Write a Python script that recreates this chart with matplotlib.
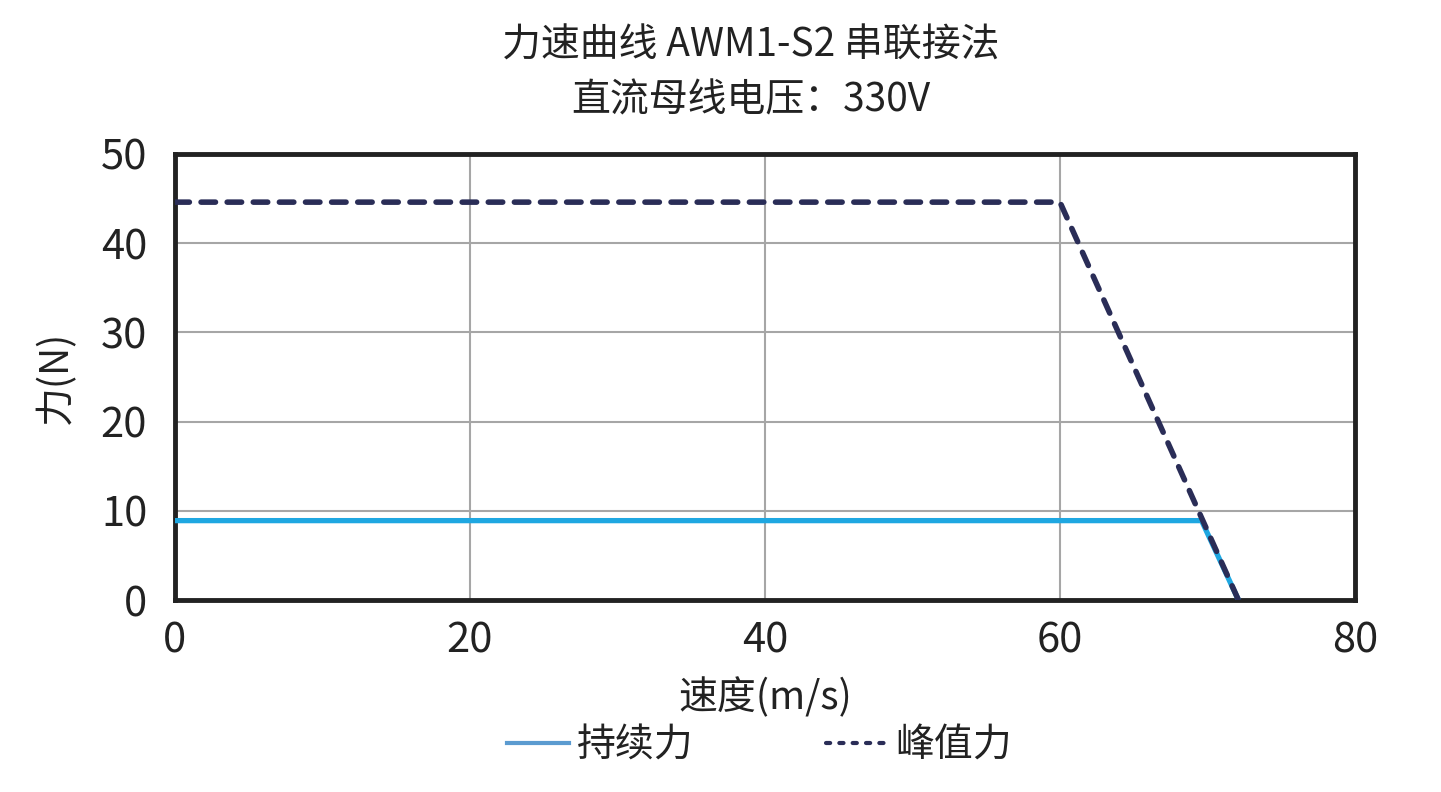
import matplotlib.pyplot as plt
from matplotlib.lines import Line2D

plt.rcParams['font.family'] = ['Noto Sans CJK SC', 'DejaVu Sans']

# data
cont_speed = [0, 69.6, 72.1]
cont_force = [8.9, 8.9, 0]
peak_speed = [0, 60, 72.1]
peak_force = [44.6, 44.6, 0]

x_ticks = [0, 20, 40, 60, 80]
y_ticks = [0, 10, 20, 30, 40, 50]

CONT_COLOR = "#1ea7e1"
CONT_LEGEND = "#5b9bd0"
PEAK_COLOR = "#2a2d57"
TXT = "#222222"

fig = plt.figure(figsize=(14.41, 7.92), dpi=100)
ax = fig.add_axes([0.1214, 0.2424, 0.8189, 0.5632])

ax.plot(cont_speed, cont_force, color=CONT_COLOR, lw=3.8, solid_capstyle="butt", zorder=3)
ax.plot(peak_speed, peak_force, color=PEAK_COLOR, lw=4.0, dashes=(2.6, 2.1),
        dash_capstyle="round", zorder=4)

ax.set_xlim(0, 80)
ax.set_ylim(0, 50)
ax.set_xticks(x_ticks)
ax.set_yticks(y_ticks)
ax.tick_params(labelsize=30, length=0, colors=TXT)
ax.tick_params(axis="x", pad=15)
ax.tick_params(axis="y", pad=20)
ax.grid(True, color="#a6a6a6", lw=1.5)
for s in ax.spines.values():
    s.set_color(TXT)
    s.set_linewidth(3.5)

ax.set_xlabel("速度(m/s)", fontsize=28, color=TXT, labelpad=11)
ax.set_ylabel("力(N)", fontsize=28, color=TXT, labelpad=18)

fig.text(0.521, 0.943, "力速曲线 AWM1-S2 串联接法", ha="center", va="center",
         fontsize=28, color=TXT)
fig.text(0.521, 0.873, "直流母线电压：330V", ha="center", va="center",
         fontsize=28, color=TXT)

handles = [
    Line2D([0], [0], color=CONT_LEGEND, lw=3.0),
    Line2D([0], [0], color=PEAK_COLOR, lw=3.0, dashes=(1.0, 2.2), dash_capstyle="round"),
]
fig.legend(handles, ["持续力", "峰值力"], loc="center", bbox_to_anchor=(0.527, 0.059),
           ncol=2, frameon=False, fontsize=28, handlelength=1.6, handletextpad=0.2,
           columnspacing=3.4, labelcolor=TXT, borderpad=0)

fig.savefig("out.png", dpi=100)
